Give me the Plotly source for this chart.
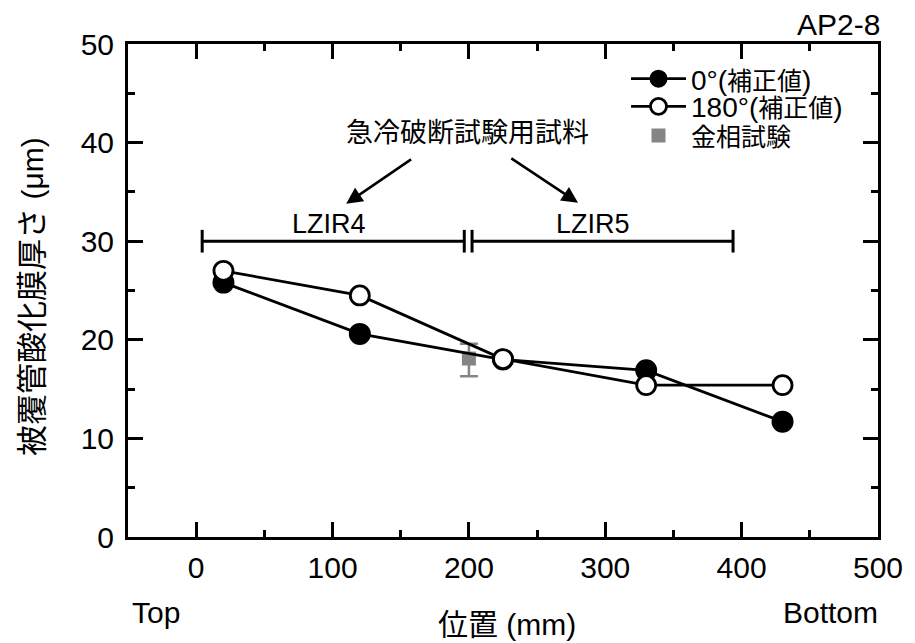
import plotly.graph_objects as go

# ---- data ----
pos_0 = [20, 120, 225, 330, 430]
thk_0 = [25.8, 20.6, 18.0, 16.9, 11.7]
pos_180 = [20, 120, 225, 330, 430]
thk_180 = [27.0, 24.5, 18.05, 15.4, 15.4]
pos_metal = [200]
thk_metal = [18.1]
err_plus = [1.5]
err_minus = [1.8]

x_ticks = [0, 100, 200, 300, 400, 500]
y_ticks = [0, 10, 20, 30, 40, 50]

LAT = "Liberation Sans, Arial, Noto Sans CJK JP"
CJK = "Noto Sans CJK JP, Liberation Sans"


def cj(t, size):
    return '<span style="font-family:Noto Sans CJK JP;font-size:%dpx">%s</span>' % (size, t)


fig = go.Figure()

fig.add_trace(go.Scatter(
    x=pos_metal, y=thk_metal, mode="markers", name=cj("金相試験", 25),
    marker=dict(symbol="square", size=14, color="#858585"),
    error_y=dict(type="data", symmetric=False, array=err_plus, arrayminus=err_minus,
                 color="#858585", thickness=2.5, width=9),
    legend="legend3",
))
fig.add_trace(go.Scatter(
    x=pos_0, y=thk_0, mode="lines+markers", name="0°(" + cj("補正値", 25) + ")",
    line=dict(color="black", width=2.8),
    marker=dict(symbol="circle", size=20, color="black", line=dict(color="black", width=2)),
    legend="legend",
))
fig.add_trace(go.Scatter(
    x=pos_180, y=thk_180, mode="lines+markers", name="180°(" + cj("補正値", 25) + ")",
    line=dict(color="black", width=2.8),
    marker=dict(symbol="circle", size=19, color="white", line=dict(color="black", width=2.8)),
    legend="legend2",
))

# brackets for sample ranges
br_y = 30
br_cap = 1.15
segments = [(4.4, 196.6), (202.3, 393.7)]
for x0, x1 in segments:
    fig.add_shape(type="line", x0=x0, x1=x1, y0=br_y, y1=br_y, line=dict(color="black", width=3))
    for xx in (x0, x1):
        fig.add_shape(type="line", x0=xx, x1=xx, y0=br_y - br_cap, y1=br_y + br_cap,
                      line=dict(color="black", width=3))

labels = [("LZIR4", 97.5), ("LZIR5", 291)]
for txt, xx in labels:
    fig.add_annotation(x=xx, y=31.7, text=txt, showarrow=False,
                       font=dict(size=27, family=LAT, color="black"))

fig.add_annotation(x=199, y=41.2, text="急冷破断試験用試料", showarrow=False,
                   font=dict(size=27, family=CJK, color="black"))
arrows = [((158.7, 38.4), (110, 33.8)), ((230, 38.5), (280, 33.9))]
for (tx, ty), (hx, hy) in arrows:
    fig.add_annotation(x=hx, y=hy, ax=tx, ay=ty, xref="x", yref="y", axref="x", ayref="y",
                       text="", showarrow=True, arrowhead=2, arrowsize=1.3, arrowwidth=2.5,
                       arrowcolor="black", standoff=0, startstandoff=0)

fig.add_annotation(x=1.0, y=1.0, xref="paper", yref="paper", xanchor="right", yanchor="middle",
                   xshift=4, yshift=20, text="AP2-8", showarrow=False,
                   font=dict(size=30, family=LAT, color="black"))
fig.add_annotation(x=0, y=0, xref="paper", yref="paper", xanchor="left", yanchor="middle",
                   xshift=2, yshift=-75, text="Top", showarrow=False,
                   font=dict(size=30, family=LAT, color="black"))
fig.add_annotation(x=1.0, y=0, xref="paper", yref="paper", xanchor="right", yanchor="middle",
                   xshift=2, yshift=-75, text="Bottom", showarrow=False,
                   font=dict(size=30, family=LAT, color="black"))
fig.add_annotation(x=0.505, y=0, xref="paper", yref="paper", xanchor="center", yanchor="middle",
                   yshift=-85, text=cj("位置", 30) + " (mm)", showarrow=False,
                   font=dict(size=30, family=LAT, color="black"))
fig.add_annotation(x=0, y=0.487, xref="paper", yref="paper", xanchor="center", yanchor="middle",
                   xshift=-98, textangle=-90, text=cj("被覆管酸化膜厚さ", 31) + " (μm)",
                   showarrow=False, font=dict(size=30, family=LAT, color="black"))

leg_common = dict(x=0.664, xanchor="left", yanchor="middle", bgcolor="rgba(0,0,0,0)",
                  font=dict(size=28, family=LAT, color="black"), itemwidth=55,
                  borderwidth=0)

fig.update_layout(
    width=907, height=635,
    margin=dict(l=120, r=31, t=36, b=106),
    paper_bgcolor="white", plot_bgcolor="white",
    font=dict(family=LAT, size=30, color="black"),
    showlegend=True,
    legend=dict(y=0.929, **leg_common),
    legend2=dict(y=0.873, **leg_common),
    legend3=dict(y=0.814, **leg_common),
    xaxis=dict(
        range=[-50, 500], tickvals=x_ticks, ticks="inside", ticklen=15, tickwidth=2.5,
        tickcolor="black", showline=True, linecolor="black", linewidth=3, mirror="allticks",
        showgrid=False, zeroline=False, ticklabelstandoff=2,
        tickfont=dict(size=30, family=LAT),
        minor=dict(dtick=50, ticks="inside", ticklen=7, tickwidth=2.5, tickcolor="black", showgrid=False),
    ),
    yaxis=dict(
        range=[0, 50], tickvals=y_ticks, ticks="inside", ticklen=15, tickwidth=2.5,
        tickcolor="black", showline=True, linecolor="black", linewidth=3, mirror="allticks",
        showgrid=False, zeroline=False, ticklabelstandoff=5,
        tickfont=dict(size=30, family=LAT),
        minor=dict(dtick=5, ticks="inside", ticklen=7, tickwidth=2.5, tickcolor="black", showgrid=False),
    ),
)

fig.write_html("out.html")
